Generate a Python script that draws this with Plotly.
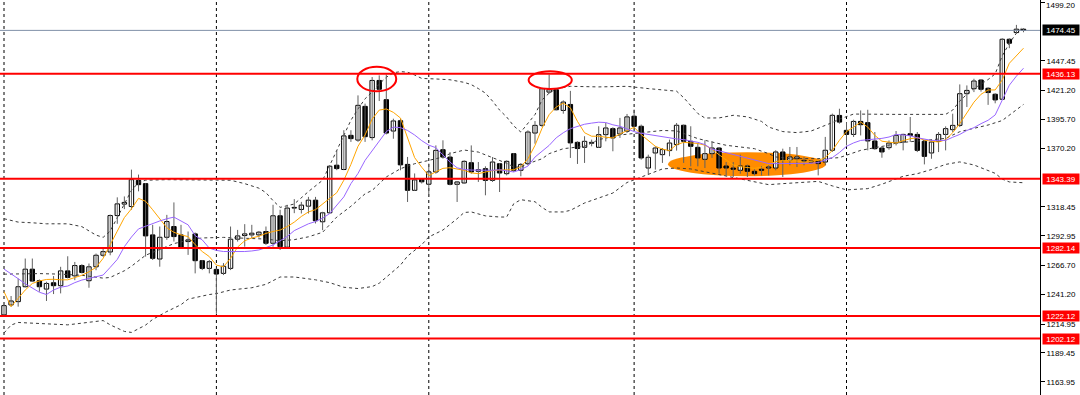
import plotly.graph_objects as go

# ---- OHLC candles (H4 bars) ----
bar_open = [
    1223.0, 1231.8, 1234.7, 1247.9, 1263.4, 1253.2, 1245.8, 1251.4, 1248.8, 1261.9,
    1257.5, 1266.6, 1253.2, 1265.5, 1275.7, 1278.6, 1310.8, 1320.9, 1318.8, 1341.9,
    1339.0, 1293.7, 1272.4, 1291.6, 1301.1, 1293.7, 1287.8, 1294.6, 1270.9, 1264.1,
    1263.2, 1259.7, 1264.1, 1289.9, 1293.1, 1293.7, 1293.7, 1296.7, 1286.3, 1310.6,
    1282.8, 1317.4, 1316.2, 1319.1, 1324.4, 1305.3, 1313.2, 1355.3, 1351.5, 1381.7,
    1377.5, 1407.3, 1379.7, 1430.2, 1413.2, 1385.5, 1394.6, 1356.0, 1333.1, 1342.8,
    1338.5, 1349.3, 1369.0, 1362.5, 1338.4, 1339.6, 1357.5, 1349.9, 1352.2, 1341.9,
    1356.6, 1347.8, 1365.5, 1350.8, 1356.6, 1383.7, 1390.5, 1419.9, 1422.0, 1403.7,
    1409.0, 1375.5, 1371.1, 1374.7, 1371.1, 1382.3, 1387.6, 1382.9, 1385.3, 1398.6,
    1389.7, 1352.8, 1366.1, 1364.6, 1368.2, 1373.5, 1390.6, 1376.4, 1371.1, 1360.5,
    1365.5, 1370.5, 1354.6, 1352.8, 1350.8, 1354.6, 1349.9, 1351.7, 1352.8, 1352.8,
    1367.0, 1359.6, 1361.1, 1358.7, 1358.1, 1359.0, 1358.1, 1368.5, 1399.3, 1386.1,
    1382.5, 1394.0, 1392.9, 1376.7, 1370.5, 1370.8, 1374.9, 1375.8, 1383.1, 1382.5,
    1376.4, 1366.1, 1376.4, 1382.5, 1386.7, 1390.5, 1418.5, 1422.9, 1430.6, 1423.3,
    1418.0, 1413.6, 1466.6, 1472.5, 1475.5,
]
bar_high = [
    1231.8, 1239.7, 1255.2, 1272.8, 1272.8, 1254.3, 1252.3, 1257.3, 1265.5, 1274.8,
    1269.8, 1267.8, 1268.4, 1277.2, 1281.6, 1311.7, 1326.9, 1327.7, 1351.4, 1347.0,
    1339.5, 1302.6, 1301.1, 1311.4, 1322.4, 1302.6, 1296.7, 1295.8, 1271.5, 1271.5,
    1264.1, 1268.8, 1301.1, 1298.1, 1303.2, 1302.6, 1297.2, 1301.1, 1320.3, 1315.9,
    1320.3, 1325.3, 1322.9, 1327.3, 1327.3, 1314.1, 1355.3, 1368.5, 1386.2, 1386.2,
    1417.0, 1409.7, 1433.2, 1434.7, 1435.5, 1396.4, 1396.4, 1362.6, 1348.0, 1343.5,
    1356.7, 1372.8, 1377.3, 1366.9, 1341.3, 1359.6, 1372.8, 1358.1, 1354.3, 1362.5,
    1357.2, 1359.6, 1366.1, 1357.2, 1386.1, 1394.3, 1423.8, 1435.5, 1422.9, 1412.6,
    1421.0, 1376.4, 1380.9, 1377.9, 1389.7, 1392.6, 1388.8, 1397.1, 1400.6, 1404.5,
    1391.2, 1364.6, 1372.0, 1370.5, 1377.9, 1392.6, 1391.2, 1389.7, 1375.0, 1377.3,
    1376.4, 1371.4, 1358.1, 1358.1, 1364.6, 1355.8, 1351.7, 1354.6, 1355.2, 1368.5,
    1369.9, 1371.4, 1371.4, 1362.6, 1359.6, 1359.6, 1380.3, 1400.9, 1405.2, 1393.4,
    1395.5, 1403.7, 1404.3, 1384.6, 1372.0, 1377.2, 1385.5, 1383.1, 1397.9, 1384.6,
    1377.2, 1377.2, 1384.6, 1389.6, 1400.8, 1426.7, 1425.8, 1431.7, 1431.2, 1424.2,
    1418.9, 1467.5, 1467.5, 1479.3, 1476.4,
]
bar_low = [
    1221.5, 1230.3, 1230.3, 1247.3, 1252.3, 1243.5, 1235.3, 1241.4, 1242.0, 1255.2,
    1253.7, 1259.6, 1247.0, 1262.5, 1274.2, 1275.7, 1303.5, 1316.5, 1315.9, 1332.2,
    1274.5, 1271.5, 1265.6, 1289.3, 1287.8, 1281.9, 1276.0, 1259.7, 1262.6, 1259.7,
    1224.0, 1258.2, 1262.6, 1287.8, 1283.3, 1290.7, 1291.3, 1284.8, 1283.3, 1280.4,
    1281.9, 1312.9, 1312.6, 1312.6, 1303.8, 1297.9, 1312.6, 1350.9, 1350.9, 1375.9,
    1375.9, 1375.9, 1377.3, 1412.0, 1382.5, 1378.7, 1350.8, 1322.8, 1332.6, 1339.1,
    1327.3, 1347.8, 1361.1, 1337.5, 1322.8, 1339.0, 1347.8, 1340.5, 1328.7, 1340.5,
    1331.6, 1346.3, 1349.3, 1345.5, 1355.2, 1374.3, 1389.0, 1418.5, 1403.7, 1400.8,
    1361.7, 1356.4, 1357.3, 1372.0, 1370.5, 1376.4, 1367.6, 1379.4, 1383.8, 1388.2,
    1360.2, 1346.9, 1351.4, 1357.3, 1363.2, 1368.2, 1357.3, 1354.3, 1354.3, 1352.8,
    1361.7, 1347.8, 1346.3, 1344.9, 1347.8, 1344.9, 1346.3, 1346.3, 1346.3, 1350.8,
    1344.9, 1355.2, 1353.7, 1355.2, 1356.7, 1346.3, 1355.2, 1367.0, 1392.0, 1372.8,
    1380.2, 1381.6, 1368.4, 1369.0, 1361.9, 1369.0, 1372.8, 1368.4, 1375.8, 1366.9,
    1356.0, 1361.0, 1366.9, 1368.4, 1384.6, 1389.0, 1406.7, 1419.9, 1420.3, 1408.6,
    1410.0, 1413.0, 1458.7, 1471.9, 1472.8,
]
bar_close = [
    1231.2, 1235.3, 1247.9, 1263.4, 1252.9, 1247.9, 1250.8, 1248.8, 1261.9, 1256.1,
    1266.6, 1260.5, 1265.5, 1275.7, 1278.9, 1310.8, 1321.1, 1322.4, 1342.5, 1338.1,
    1292.8, 1273.0, 1291.6, 1305.5, 1292.2, 1282.8, 1289.3, 1270.9, 1264.1, 1270.0,
    1259.1, 1266.0, 1289.9, 1292.8, 1294.6, 1295.2, 1296.1, 1286.3, 1310.6, 1283.3,
    1317.4, 1318.0, 1320.0, 1324.4, 1306.2, 1313.2, 1354.4, 1352.3, 1381.2, 1378.8,
    1408.2, 1380.5, 1430.2, 1422.4, 1383.7, 1394.4, 1355.6, 1333.1, 1342.3, 1340.6,
    1349.4, 1368.4, 1362.5, 1338.4, 1340.5, 1358.7, 1349.3, 1351.3, 1341.9, 1358.1,
    1348.4, 1358.7, 1350.8, 1356.0, 1384.6, 1390.5, 1422.9, 1422.0, 1404.3, 1411.1,
    1375.0, 1370.0, 1376.4, 1375.5, 1382.3, 1388.2, 1379.4, 1388.2, 1398.0, 1389.7,
    1361.7, 1362.3, 1370.5, 1369.1, 1374.9, 1390.6, 1376.4, 1372.0, 1361.7, 1365.5,
    1370.5, 1352.8, 1352.8, 1351.7, 1354.6, 1349.9, 1347.8, 1350.8, 1353.7, 1367.0,
    1359.6, 1362.6, 1362.6, 1359.6, 1359.0, 1356.7, 1368.5, 1399.4, 1393.4, 1382.5,
    1394.0, 1391.1, 1376.7, 1369.9, 1367.0, 1374.9, 1381.7, 1382.5, 1381.6, 1368.4,
    1363.1, 1375.8, 1382.5, 1387.6, 1390.5, 1418.5, 1421.4, 1429.7, 1422.4, 1419.5,
    1413.0, 1466.6, 1463.1, 1475.5, 1474.45,
]

# ---- moving averages (one reading per bar) ----
ma_fast = [  # orange
    1243.5, 1230.3, 1237.6, 1245.0, 1250.8, 1253.0, 1254.3, 1254.5, 1254.0, 1254.0,
    1256.0, 1258.0, 1261.1, 1265.0, 1273.0, 1284.5, 1297.0, 1309.0, 1316.7, 1326.0,
    1323.4, 1315.9, 1308.0, 1300.0, 1296.0, 1293.7, 1292.2, 1285.0, 1279.0, 1274.5,
    1267.0, 1265.5, 1273.0, 1283.0, 1288.5, 1291.0, 1292.5, 1295.0, 1296.7, 1298.0,
    1301.0, 1305.0, 1310.0, 1314.0, 1316.0, 1321.0, 1326.0, 1331.0, 1342.0, 1356.0,
    1372.0, 1382.0, 1396.0, 1404.0, 1405.0, 1402.0, 1397.0, 1379.0, 1362.0, 1353.5,
    1346.0, 1349.5, 1352.5, 1353.1, 1352.2, 1350.8, 1348.5, 1347.8, 1349.3, 1350.5,
    1351.0, 1351.3, 1351.3, 1354.0, 1361.0, 1372.8, 1388.0, 1400.0, 1406.7, 1410.2,
    1406.0, 1394.0, 1384.0, 1380.9, 1380.9, 1380.0, 1379.4, 1382.9, 1386.0, 1388.8,
    1382.3, 1377.0, 1372.0, 1369.5, 1368.2, 1373.5, 1375.5, 1375.0, 1374.5, 1373.0,
    1369.5, 1364.5, 1360.0, 1355.5, 1354.0, 1353.0, 1352.5, 1353.5, 1356.0, 1358.5,
    1359.6, 1359.6, 1359.0, 1358.0, 1359.0, 1359.5, 1362.0, 1368.4, 1377.3, 1385.0,
    1389.0, 1393.4, 1389.0, 1381.6, 1376.5, 1375.8, 1374.9, 1377.0, 1378.7, 1379.6,
    1377.5, 1376.5, 1375.8, 1377.8, 1384.0, 1392.0, 1401.0, 1411.0, 1418.0, 1421.8,
    1421.8, 1430.6, 1445.4, 1452.0, 1458.7,
]
ma_slow = [  # purple
    1263.5, 1259.6, 1255.0, 1250.5, 1246.4, 1243.0, 1241.0, 1245.0, 1247.5, 1248.5,
    1251.5, 1253.8, 1255.2, 1256.5, 1258.2, 1265.0, 1272.0, 1283.3, 1291.8, 1299.0,
    1301.5, 1304.0, 1306.0, 1308.0, 1309.4, 1306.0, 1302.6, 1293.0, 1289.3, 1282.0,
    1280.0, 1279.0, 1278.8, 1278.8, 1279.0, 1279.5, 1280.4, 1282.5, 1284.8, 1288.5,
    1292.2, 1297.5, 1300.5, 1303.5, 1305.5, 1308.5, 1312.5, 1320.0, 1327.3, 1339.0,
    1348.0, 1359.6, 1368.0, 1377.2, 1385.0, 1389.0, 1388.5, 1386.0, 1382.0, 1377.0,
    1373.0, 1370.8, 1364.0, 1358.0, 1353.0, 1351.5, 1351.0, 1350.8, 1350.8, 1350.8,
    1351.3, 1350.5, 1349.3, 1351.5, 1354.5, 1362.5, 1368.0, 1372.8, 1379.5, 1384.0,
    1387.6, 1389.7, 1391.5, 1392.5, 1393.3, 1393.0, 1391.0, 1389.7, 1387.0, 1385.0,
    1383.5, 1382.5, 1381.0, 1380.2, 1379.4, 1378.5, 1377.9, 1377.0, 1375.5, 1373.5,
    1369.4, 1368.0, 1366.4, 1364.5, 1362.6, 1361.0, 1359.6, 1358.0, 1356.7, 1356.7,
    1356.7, 1356.7, 1356.7, 1356.7, 1357.0, 1357.6, 1359.5, 1362.0, 1366.5, 1372.0,
    1375.0, 1377.2, 1377.8, 1378.1, 1379.0, 1380.2, 1382.5, 1382.0, 1381.3, 1379.6,
    1378.5, 1377.2, 1377.2, 1377.2, 1380.0, 1382.5, 1386.0, 1388.5, 1392.0, 1395.0,
    1399.7, 1413.0, 1426.0, 1434.0, 1441.0,
]

# ---- Bollinger bands (read at selected bars) ----
bb_upper_bars = [0, 2, 4, 6, 9, 11, 13, 14, 15, 16, 17, 18, 19, 20, 23, 28, 32, 34, 36, 37,
                 38, 39, 41, 43, 45, 46, 47, 48, 49, 50, 51, 52, 53, 54, 55, 56, 57, 58, 59, 61,
                 63, 65, 66, 67, 68, 69, 70, 71, 72, 73, 74, 75, 76, 77, 78, 80, 84, 88, 91, 93,
                 95, 96, 97, 98, 99, 101, 103, 105, 107, 108, 110, 112, 114, 115, 116, 117, 118, 120, 126, 133,
                 134, 135, 136, 137, 138, 139, 140, 141, 142, 143, 144]
bb_upper = [1308, 1305, 1304.4, 1303.5, 1303.5, 1301, 1293.5, 1291.5, 1297, 1309,
            1320, 1333, 1340, 1342, 1342.5, 1342.5, 1342, 1339, 1335, 1331,
            1324, 1318, 1321, 1332, 1342, 1355, 1368, 1382, 1395, 1405,
            1414, 1420, 1427, 1433, 1437, 1438, 1437.5, 1435, 1432, 1431.5,
            1430.8, 1428.5, 1426.5, 1423, 1419, 1412, 1404, 1397.9, 1390, 1384.6,
            1392, 1400, 1413, 1419, 1423, 1425, 1424.5, 1425, 1423, 1422,
            1420.7, 1415, 1408, 1401, 1397, 1397.1, 1399.4, 1398, 1394, 1389,
            1385, 1384.1, 1385.5, 1388, 1390, 1393, 1396, 1400.5, 1400.2, 1400.2,
            1404, 1412, 1418, 1423, 1427, 1431, 1436, 1452, 1463, 1472, 1478]
bb_middle_bars = [0, 3, 5, 8, 11, 14, 15, 17, 18, 20, 22, 24, 26, 28, 31, 34, 37, 39, 41, 43,
                  45, 47, 49, 51, 52, 54, 56, 58, 60, 62, 63, 65, 67, 69, 71, 72, 73, 74, 76, 77,
                  79, 82, 84, 87, 90, 93, 95, 97, 98, 100, 102, 104, 106, 108, 109, 111, 116, 118, 119, 121,
                  123, 125, 126, 128, 130, 133, 135, 137, 139, 141, 142, 144]
bb_middle = [1259, 1259.5, 1259.5, 1259, 1258, 1255.5, 1256.1, 1262, 1266, 1275.7,
             1281, 1286, 1289, 1291, 1291.5, 1291, 1290, 1288.5, 1289.5, 1292,
             1296, 1309.5, 1319, 1330, 1333, 1344.9, 1352.2, 1356.6, 1359.6, 1362.5,
             1365.5, 1368.7, 1366.9, 1362, 1357, 1353.7, 1353.7, 1356.6, 1361, 1365.5,
             1369.9, 1372, 1377.9, 1382, 1384.3, 1386, 1385.6, 1381, 1378.8, 1375.8,
             1372.9, 1371.4, 1369.9, 1365.5, 1362.6, 1361.1, 1361.1, 1362, 1364, 1368.4,
             1370.8, 1373, 1374.9, 1375.8, 1377.2, 1379, 1384.9, 1387.9, 1390.8, 1394.8,
             1399.7, 1409]
bb_lower_bars = [0, 1, 2, 4, 6, 9, 11, 14, 15, 17, 18, 20, 21, 23, 25, 26, 29, 30, 32, 35,
                 37, 39, 41, 44, 46, 48, 50, 52, 53, 54, 55, 56, 57, 58, 59, 60, 62, 64, 65, 66,
                 68, 70, 71, 72, 73, 75, 76, 77, 79, 80, 82, 84, 86, 88, 91, 93, 95, 97, 101, 104,
                 106, 108, 110, 112, 115, 117, 119, 122, 124, 127, 129, 131, 133, 135, 137, 140, 141, 142, 144]
bb_lower = [1207, 1214, 1216.3, 1215.7, 1214.5, 1214.2, 1215.7, 1218, 1214.2, 1208.4,
            1207.5, 1214, 1219, 1226, 1232, 1236.9, 1241, 1241.8, 1245, 1247,
            1250, 1256.5, 1256.5, 1254, 1251.5, 1247.4, 1246.3, 1248, 1251, 1256.6,
            1262, 1267, 1275, 1280, 1285, 1291.9, 1298, 1308, 1313.5, 1314,
            1310.5, 1309.5, 1309.5, 1321.3, 1324.8, 1323, 1318, 1314, 1314, 1315.4,
            1321.9, 1326.3, 1330.7, 1340, 1347.5, 1352, 1352.8, 1352, 1347, 1343,
            1341, 1338.1, 1339, 1339.9, 1341, 1337, 1333.5, 1334.6, 1338.5, 1345.5,
            1347.8, 1351.5, 1356, 1358.2, 1355.5, 1348.1, 1343, 1340.5, 1339.8]

# ---- levels, axis ticks, separators, markup ----
level_prices = [1436.13, 1343.39, 1282.14, 1222.12, 1202.12]
current_price = 1474.45
price_ticks = [1499.20, 1447.45, 1421.20, 1395.70, 1370.20, 1318.45,
               1292.95, 1266.70, 1241.20, 1214.95, 1189.45, 1163.95]
top_tick = 1499.20  # label drawn just inside the top edge
week_start_bars = [0, 30, 60, 89, 119]
# markup: (bar_from, bar_to, price_from, price_to)
red_circles = [(49.9, 55.4, 1420.6, 1442.2), (74.1, 80.2, 1422.7, 1438.3)]
orange_ellipse = (93.8, 116.1, 1345.5, 1366.8)

n = len(bar_close)
assert all(len(a) == n for a in (bar_open, bar_high, bar_low, ma_fast, ma_slow))
assert len(bb_upper_bars) == len(bb_upper)
assert len(bb_middle_bars) == len(bb_middle)
assert len(bb_lower_bars) == len(bb_lower)
bars = list(range(n))

fig = go.Figure()

band_line = dict(color="#3a3a3a", width=1, dash="3px,3px")
for bx, by in ((bb_upper_bars, bb_upper), (bb_middle_bars, bb_middle), (bb_lower_bars, bb_lower)):
    fig.add_trace(go.Scatter(x=bx, y=by, mode="lines", line=band_line, hoverinfo="skip"))

# wicks
wx, wy = [], []
for i in bars:
    wx += [i, i, None]
    wy += [bar_low[i], bar_high[i], None]
fig.add_trace(go.Scatter(x=wx, y=wy, mode="lines", line=dict(color="#606060", width=1),
                         hoverinfo="skip"))

# bodies
body_base = [min(o, c) for o, c in zip(bar_open, bar_close)]
body_size = [max(abs(c - o), 0.5) for o, c in zip(bar_open, bar_close)]
body_color = ["white" if c >= o else "black" for o, c in zip(bar_open, bar_close)]
fig.add_trace(go.Bar(x=bars, y=body_size, base=body_base, width=0.62,
                     marker=dict(color=body_color, line=dict(color="black", width=1)),
                     hoverinfo="skip"))

fig.add_trace(go.Scatter(x=bars, y=ma_fast, mode="lines",
                         line=dict(color="#FFA500", width=1), hoverinfo="skip"))
fig.add_trace(go.Scatter(x=bars, y=ma_slow, mode="lines",
                         line=dict(color="#9966FF", width=1), hoverinfo="skip"))

shapes = []
ex0, ex1, ey0, ey1 = orange_ellipse
shapes.append(dict(type="circle", xref="x", yref="y", x0=ex0, x1=ex1, y0=ey0, y1=ey1,
                   fillcolor="#FF8C00", line=dict(width=0), layer="below"))
for b in week_start_bars:
    shapes.append(dict(type="line", xref="x", yref="paper", x0=b, x1=b, y0=0, y1=1,
                       line=dict(color="black", width=1, dash="3px,3px"), layer="below"))
shapes.append(dict(type="line", xref="paper", yref="y", x0=0, x1=1,
                   y0=current_price, y1=current_price,
                   line=dict(color="#8090A8", width=1)))
for p in level_prices:
    shapes.append(dict(type="line", xref="paper", yref="y", x0=0, x1=1, y0=p, y1=p,
                       line=dict(color="#FF0000", width=2)))
for (cx0, cx1, cy0, cy1) in red_circles:
    shapes.append(dict(type="circle", xref="x", yref="y", x0=cx0, x1=cx1, y0=cy0, y1=cy1,
                       line=dict(color="#FF0000", width=2)))

annotations = []
label_font = dict(family="Liberation Sans, Arial, sans-serif", size=8, color="white")
for p, bg in [(current_price, "black")] + [(p, "#FF0000") for p in level_prices]:
    annotations.append(dict(xref="paper", yref="y", x=1, y=p, xanchor="left", yanchor="middle",
                            xshift=2, text=f"{p:.2f}", showarrow=False, font=label_font,
                            bgcolor=bg, borderpad=0, width=36, height=10, align="center"))
# top tick label, kept fully inside the figure
annotations.append(dict(xref="paper", yref="paper", x=1, y=1, xanchor="left", yanchor="top",
                        xshift=5, yshift=0, text=f"{top_tick:.2f}", showarrow=False,
                        font=dict(family="Liberation Sans, Arial, sans-serif", size=8,
                                  color="black"),
                        borderpad=0))

fig.update_layout(
    width=1080, height=395,
    margin=dict(l=0, r=40, t=0, b=0, autoexpand=False),
    paper_bgcolor="white", plot_bgcolor="white",
    showlegend=False, hovermode=False, bargap=0,
    shapes=shapes, annotations=annotations,
)
fig.update_xaxes(range=[-0.565, 146.33], visible=False, fixedrange=True)
fig.update_yaxes(
    range=[1152.2, 1501.3], side="right", showgrid=False, zeroline=False,
    showline=True, linecolor="black", linewidth=1, automargin=False,
    ticks="outside", ticklen=4, tickcolor="black", tickwidth=1,
    tickvals=price_ticks,
    ticktext=["" if v == top_tick else f"{v:.2f}" for v in price_ticks],
    tickfont=dict(family="Liberation Sans, Arial, sans-serif", size=8, color="black"),
)

fig.write_html(
    "out.html",
    config={"displayModeBar": False, "staticPlot": True},
    post_script="document.body.style.margin='0px';document.body.style.overflow='hidden';",
)
